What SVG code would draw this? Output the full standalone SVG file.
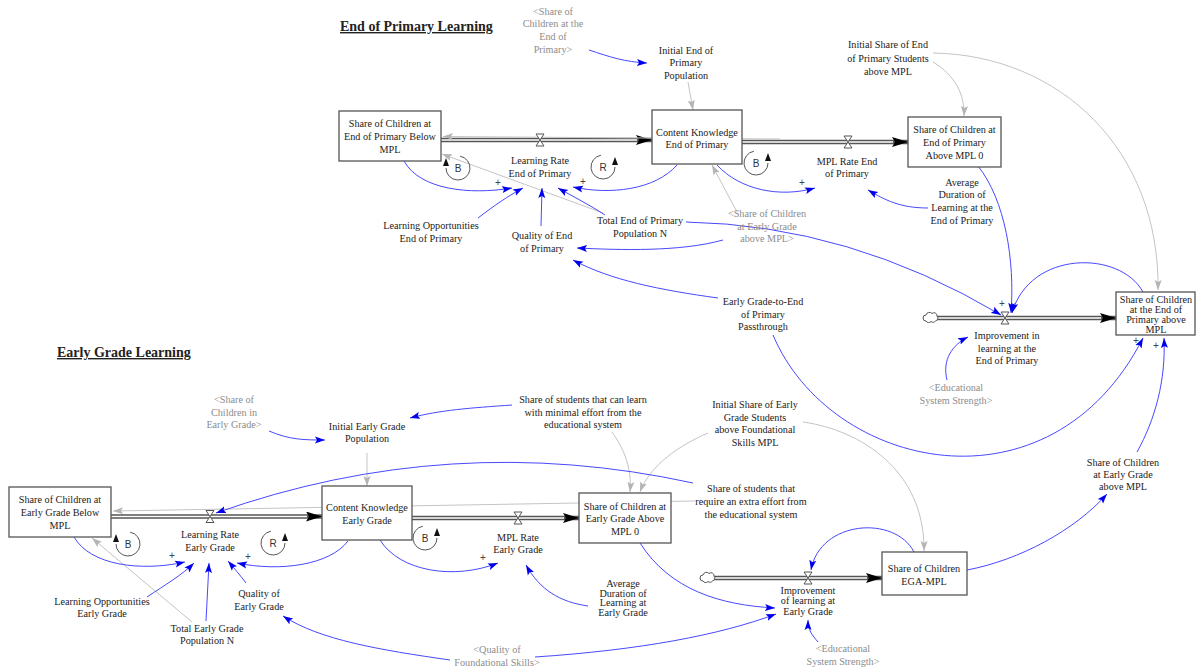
<svg xmlns="http://www.w3.org/2000/svg" width="1196" height="668" viewBox="0 0 1196 668">
<defs>
<style>
.t{font-family:"Liberation Serif","Times New Roman",serif;font-size:10.2px;fill:#222;text-anchor:middle}
.g{fill:#8c8c8c}
.ttl{font-family:"Liberation Serif","Times New Roman",serif;font-size:14px;font-weight:bold;fill:#222;text-decoration:underline}
.bl{fill:none;stroke:#4848ff;stroke-width:1}
.gr{fill:none;stroke:#c4c4c4;stroke-width:1}
.box{fill:#fff;stroke:#555;stroke-width:1.3}
.po{fill:none;stroke:#555;stroke-width:4.4}
.pi{fill:none;stroke:#fff;stroke-width:1.6}
.valve{fill:#fff;stroke:#555;stroke-width:1}
.loop{fill:none;stroke:#555;stroke-width:1}
.lt{font-family:"Liberation Sans",Arial,sans-serif;font-size:10px;fill:#333;text-anchor:middle}
.pl{font-family:"Liberation Sans",Arial,sans-serif;font-size:10px;fill:#444;text-anchor:middle}
</style>
<marker id="ab" markerWidth="10" markerHeight="8" refX="10" refY="4" orient="auto" markerUnits="userSpaceOnUse"><path d="M0,0.5 L10,4 L0,7.5 L2,4 Z" fill="#0000ee"/></marker>
<marker id="ag" markerWidth="10" markerHeight="8" refX="10" refY="4" orient="auto" markerUnits="userSpaceOnUse"><path d="M0,0.5 L10,4 L0,7.5 L2,4 Z" fill="#b4b4b4"/></marker>
<marker id="af" markerWidth="16" markerHeight="10" refX="16" refY="5" orient="auto" markerUnits="userSpaceOnUse"><path d="M0,0 L16,5 L0,10 L3,5 Z" fill="#000"/></marker>
</defs>
<rect width="1196" height="668" fill="#fff"/>

<g id="connectors">
<!-- flows -->
<path class="po" d="M441,140 L652,140" marker-end="url(#af)"/>
<path class="pi" d="M441,140 L637,140"/>
<path class="po" d="M742,142 L908,142" marker-end="url(#af)"/>
<path class="pi" d="M742,142 L893,142"/>
<path class="po" d="M937,318 L1116,318" marker-end="url(#af)"/>
<path class="pi" d="M937,318 L1101,318"/>
<path class="po" d="M111,516.5 L322,516.5" marker-end="url(#af)"/>
<path class="pi" d="M111,516.5 L307,516.5"/>
<path class="po" d="M412,518 L579,518" marker-end="url(#af)"/>
<path class="pi" d="M412,518 L564,518"/>
<path class="po" d="M714,578 L882,578" marker-end="url(#af)"/>
<path class="pi" d="M714,578 L867,578"/>

<!-- top gray -->
<path class="gr" d="M780,139 L443,136.5" marker-end="url(#ag)"/>
<path class="gr" d="M688,82 L693,110" marker-end="url(#ag)"/>
<path class="gr" d="M933,62 C955,75 965,95 964,116" marker-end="url(#ag)"/>
<path class="gr" d="M933,53 C1060,55 1160,150 1158,290" marker-end="url(#ag)"/>
<path class="gr" d="M603,213 L442,154" marker-end="url(#ag)"/>
<path class="gr" d="M737,212 L712,165" marker-end="url(#ag)"/>

<!-- top blue -->
<path class="bl" d="M589,50 C610,57 625,62 647,63" marker-end="url(#ab)"/>
<path class="bl" d="M404,161 C420,190 470,195 512,188" marker-end="url(#ab)"/>
<path class="bl" d="M677,165 C655,190 610,195 573,187" marker-end="url(#ab)"/>
<path class="bl" d="M478,218 C495,205 508,196 523,188" marker-end="url(#ab)"/>
<path class="bl" d="M541,226 L542,188" marker-end="url(#ab)"/>
<path class="bl" d="M605,215 C590,205 572,196 558,188" marker-end="url(#ab)"/>
<path class="bl" d="M686,222 Q850,225 1001,315" marker-end="url(#ab)"/>
<path class="bl" d="M723,240 C680,252 620,250 577,248" marker-end="url(#ab)"/>
<path class="bl" d="M717,165 C740,190 780,198 815,188" marker-end="url(#ab)"/>
<path class="bl" d="M928,208 C900,208 885,200 868,190" marker-end="url(#ab)"/>
<path class="bl" d="M978,166 C1005,200 1015,260 1011,313" marker-end="url(#ab)"/>
<path class="bl" d="M718,298 C660,290 610,280 573,260" marker-end="url(#ab)"/>
<path class="bl" d="M773,335 C830,470 1050,520 1143,338" marker-end="url(#ab)"/>
<path class="bl" d="M1137,452 C1155,420 1166,380 1164,338" marker-end="url(#ab)"/>
<path class="bl" d="M1143,292 C1120,250 1030,250 1012,313" marker-end="url(#ab)"/>
<path class="bl" d="M947,380 C942,360 952,345 968,337" marker-end="url(#ab)"/>

<!-- bottom gray -->
<path class="gr" d="M695,501 L113,511" marker-end="url(#ag)"/>
<path class="gr" d="M367,453 L367,486" marker-end="url(#ag)"/>
<path class="gr" d="M612,432 C625,450 632,470 630,492" marker-end="url(#ag)"/>
<path class="gr" d="M708,433 C680,445 650,465 640,492" marker-end="url(#ag)"/>
<path class="gr" d="M803,422 C860,430 925,470 924,551" marker-end="url(#ag)"/>
<path class="gr" d="M192,622 L92,538" marker-end="url(#ag)"/>

<!-- bottom blue -->
<path class="bl" d="M269,431 C290,440 305,440 325,440" marker-end="url(#ab)"/>
<path class="bl" d="M512,405 C470,408 440,410 410,418" marker-end="url(#ab)"/>
<path class="bl" d="M693,483 Q450,430 216,513" marker-end="url(#ab)"/>
<path class="bl" d="M74,537 C90,565 140,572 185,562" marker-end="url(#ab)"/>
<path class="bl" d="M348,541 C330,565 280,572 237,563" marker-end="url(#ab)"/>
<path class="bl" d="M147,597 C165,585 182,575 194,563" marker-end="url(#ab)"/>
<path class="bl" d="M206,621 L209,563" marker-end="url(#ab)"/>
<path class="bl" d="M246,583 C240,575 234,568 228,561" marker-end="url(#ab)"/>
<path class="bl" d="M450,660 C380,650 320,640 283,616" marker-end="url(#ab)"/>
<path class="bl" d="M535,657 C640,650 720,635 776,614" marker-end="url(#ab)"/>
<path class="bl" d="M380,540 C400,572 455,580 498,563" marker-end="url(#ab)"/>
<path class="bl" d="M588,606 C560,602 540,590 526,565" marker-end="url(#ab)"/>
<path class="bl" d="M640,543 C670,590 720,605 775,608" marker-end="url(#ab)"/>
<path class="bl" d="M818,642 C812,635 808,630 808,620" marker-end="url(#ab)"/>
<path class="bl" d="M914,552 C895,515 820,520 811,570" marker-end="url(#ab)"/>
<path class="bl" d="M967,570 C1020,560 1075,530 1107,494" marker-end="url(#ab)"/>

<!-- polarity -->
<text class="pl" x="498" y="186">+</text>
<text class="pl" x="583" y="185">+</text>
<text class="pl" x="802" y="186">+</text>
<text class="pl" x="1002" y="307">+</text>
<text class="pl" x="1136" y="344">+</text>
<text class="pl" x="1156" y="349">+</text>
<text class="pl" x="172" y="559">+</text>
<text class="pl" x="248" y="560">+</text>
<text class="pl" x="483" y="561">+</text>

<!-- loops -->
<g id="loop_b1"><path class="loop" d="M460.1,156.2 A12,12 0 1 1 446,168"/><path d="M446,158 L443,166 L449,166 Z" fill="#111"/><text class="lt" x="458" y="172">B</text></g>
<g id="loop_r1"><path class="loop" d="M600.9,155.2 A12,12 0 1 0 615,167"/><path d="M615,157 L612,165 L618,165 Z" fill="#111"/><text class="lt" x="603" y="171">R</text></g>
<g id="loop_b2"><path class="loop" d="M753.9,151.2 A12,12 0 1 0 768,163"/><path d="M768,153 L765,161 L771,161 Z" fill="#111"/><text class="lt" x="756" y="167">B</text></g>
<g id="loop_b3"><path class="loop" d="M130.1,532.2 A12,12 0 1 1 116,544"/><path d="M116,534 L113,542 L119,542 Z" fill="#111"/><text class="lt" x="128" y="548">B</text></g>
<g id="loop_r2"><path class="loop" d="M270.9,531.2 A12,12 0 1 0 285,543"/><path d="M285,533 L282,541 L288,541 Z" fill="#111"/><text class="lt" x="273" y="547">R</text></g>
<g id="loop_b4"><path class="loop" d="M422.9,526.2 A12,12 0 1 0 437,538"/><path d="M437,528 L434,536 L440,536 Z" fill="#111"/><text class="lt" x="425" y="542">B</text></g>
</g>

<!-- ===== End of Primary ===== -->
<g id="title_ep"><text class="ttl" x="340" y="31">End of Primary Learning</text></g>
<g id="ref_share_end_primary"><text class="t g"><tspan x="553" y="14.5">&lt;Share of</tspan><tspan x="553" y="27.2">Children at the</tspan><tspan x="553" y="40">End of</tspan><tspan x="553" y="52.7">Primary&gt;</tspan></text></g>
<g id="init_ep_pop"><text class="t"><tspan x="686" y="53.5">Initial End of</tspan><tspan x="686" y="66">Primary</tspan><tspan x="686" y="79">Population</tspan></text></g>
<g id="below_ep"><rect class="box" x="339" y="111" width="102" height="50"/><text class="t"><tspan x="390" y="127">Share of Children at</tspan><tspan x="390" y="140">End of Primary Below</tspan><tspan x="390" y="153">MPL</tspan></text></g>
<g id="ck_ep"><rect class="box" x="652" y="110" width="90" height="54"/><text class="t"><tspan x="697" y="135.5">Content Knowledge</tspan><tspan x="697" y="148">End of Primary</tspan></text></g>
<g id="above_ep0"><rect class="box" x="908" y="117" width="93" height="50"/><text class="t"><tspan x="954.5" y="133">Share of Children at</tspan><tspan x="954.5" y="146">End of Primary</tspan><tspan x="954.5" y="158.5">Above MPL 0</tspan></text></g>
<g id="lr_ep"><path class="valve" d="M536,134 L544,134 L540,140 Z M536,146 L544,146 L540,140 Z"/><text class="t"><tspan x="540" y="164">Learning Rate</tspan><tspan x="540" y="177">End of Primary</tspan></text></g>
<g id="mpl_ep"><path class="valve" d="M844,136 L852,136 L848,142 Z M844,148 L852,148 L848,142 Z"/><text class="t"><tspan x="847" y="164.5">MPL Rate End</tspan><tspan x="847" y="177">of Primary</tspan></text></g>
<g id="init_share_ep"><text class="t"><tspan x="888" y="48">Initial Share of End</tspan><tspan x="888" y="61.5">of Primary Students</tspan><tspan x="888" y="74.5">above MPL</tspan></text></g>
<g id="avg_dur_ep"><text class="t"><tspan x="962" y="185.5">Average</tspan><tspan x="962" y="198">Duration of</tspan><tspan x="962" y="211">Learning at the</tspan><tspan x="962" y="223.5">End of Primary</tspan></text></g>
<g id="ref_share_eg_above"><text class="t g"><tspan x="767" y="217">&lt;Share of Children</tspan><tspan x="767" y="229.5">at Early Grade</tspan><tspan x="767" y="242">above MPL&gt;</tspan></text></g>
<g id="lo_ep"><text class="t"><tspan x="431" y="228.5">Learning Opportunities</tspan><tspan x="431" y="241.5">End of Primary</tspan></text></g>
<g id="q_ep"><text class="t"><tspan x="542" y="238.5">Quality of End</tspan><tspan x="542" y="251.5">of Primary</tspan></text></g>
<g id="tot_ep"><text class="t"><tspan x="640" y="223.5">Total End of Primary</tspan><tspan x="640" y="236.5">Population N</tspan></text></g>
<g id="passthrough"><text class="t"><tspan x="763" y="304.5">Early Grade-to-End</tspan><tspan x="763" y="317.5">of Primary</tspan><tspan x="763" y="330">Passthrough</tspan></text></g>
<g id="cloud_ep"><path d="M926,321 a3,3 0 0 1 0,-6 a3.5,3.5 0 0 1 6,-1.5 a3,3 0 0 1 5,2.5 a3,3 0 0 1 -1.5,5 a3,3 0 0 1 -4.5,0.5 a3,3 0 0 1 -5,-0.5 z" fill="#fff" stroke="#555" stroke-width="1"/></g>
<g id="impr_ep"><path class="valve" d="M1001,312 L1009,312 L1005,318 Z M1001,324 L1009,324 L1005,318 Z"/><text class="t"><tspan x="1007" y="339">Improvement in</tspan><tspan x="1007" y="351.5">learning at the</tspan><tspan x="1007" y="364">End of Primary</tspan></text></g>
<g id="ref_ess_1"><text class="t g"><tspan x="956" y="391">&lt;Educational</tspan><tspan x="956" y="403.5">System Strength&gt;</tspan></text></g>
<g id="ep_above"><rect class="box" x="1116" y="292" width="79" height="43"/><text class="t"><tspan x="1156" y="302.5">Share of Children</tspan><tspan x="1156" y="312.5">at the End of</tspan><tspan x="1156" y="322.5">Primary above</tspan><tspan x="1156" y="332.5">MPL</tspan></text></g>

<!-- ===== Early Grade ===== -->
<g id="title_eg"><text class="ttl" x="57" y="357">Early Grade Learning</text></g>
<g id="ref_share_eg"><text class="t g"><tspan x="234" y="403">&lt;Share of</tspan><tspan x="234" y="416">Children in</tspan><tspan x="234" y="428">Early Grade&gt;</tspan></text></g>
<g id="init_eg_pop"><text class="t"><tspan x="367" y="429.5">Initial Early Grade</tspan><tspan x="367" y="442">Population</tspan></text></g>
<g id="minimal_effort"><text class="t"><tspan x="583" y="403">Share of students that can learn</tspan><tspan x="583" y="416">with minimal effort from the</tspan><tspan x="583" y="428">educational system</tspan></text></g>
<g id="init_share_eg"><text class="t"><tspan x="755" y="408">Initial Share of Early</tspan><tspan x="755" y="420.5">Grade Students</tspan><tspan x="755" y="433">above Foundational</tspan><tspan x="755" y="446">Skills MPL</tspan></text></g>
<g id="extra_effort"><text class="t"><tspan x="751" y="492">Share of students that</tspan><tspan x="751" y="505">require an extra effort from</tspan><tspan x="751" y="518">the educational system</tspan></text></g>
<g id="below_eg"><rect class="box" x="9" y="487" width="102" height="50"/><text class="t"><tspan x="60" y="503">Share of Children at</tspan><tspan x="60" y="516">Early Grade Below</tspan><tspan x="60" y="529">MPL</tspan></text></g>
<g id="ck_eg"><rect class="box" x="322" y="486" width="90" height="54"/><text class="t"><tspan x="367" y="511">Content Knowledge</tspan><tspan x="367" y="524">Early Grade</tspan></text></g>
<g id="above_eg0"><rect class="box" x="579" y="493" width="92" height="50"/><text class="t"><tspan x="625" y="509.5">Share of Children at</tspan><tspan x="625" y="522">Early Grade Above</tspan><tspan x="625" y="535">MPL 0</tspan></text></g>
<g id="lr_eg"><path class="valve" d="M206,510.5 L214,510.5 L210,516.5 Z M206,522.5 L214,522.5 L210,516.5 Z"/><text class="t"><tspan x="210" y="538">Learning Rate</tspan><tspan x="210" y="551">Early Grade</tspan></text></g>
<g id="mpl_eg"><path class="valve" d="M514,512 L522,512 L518,518 Z M514,524 L522,524 L518,518 Z"/><text class="t"><tspan x="518" y="540.5">MPL Rate</tspan><tspan x="518" y="552.5">Early Grade</tspan></text></g>
<g id="lo_eg"><text class="t"><tspan x="102" y="604.5">Learning Opportunities</tspan><tspan x="102" y="617">Early Grade</tspan></text></g>
<g id="tot_eg"><text class="t"><tspan x="207" y="631.5">Total Early Grade</tspan><tspan x="207" y="644">Population N</tspan></text></g>
<g id="q_eg"><text class="t"><tspan x="259" y="596.5">Quality of</tspan><tspan x="259" y="609.5">Early Grade</tspan></text></g>
<g id="avg_dur_eg"><text class="t"><tspan x="623" y="587">Average</tspan><tspan x="623" y="596.5">Duration of</tspan><tspan x="623" y="606">Learning at</tspan><tspan x="623" y="615.5">Early Grade</tspan></text></g>
<g id="cloud_eg"><path d="M703,581 a3,3 0 0 1 0,-6 a3.5,3.5 0 0 1 6,-1.5 a3,3 0 0 1 5,2.5 a3,3 0 0 1 -1.5,5 a3,3 0 0 1 -4.5,0.5 a3,3 0 0 1 -5,-0.5 z" fill="#fff" stroke="#555" stroke-width="1"/></g>
<g id="impr_eg"><path class="valve" d="M804,572 L812,572 L808,578 Z M804,584 L812,584 L808,578 Z"/><text class="t"><tspan x="808" y="593.5">Improvement</tspan><tspan x="808" y="603.5">of learning at</tspan><tspan x="808" y="614.5">Early Grade</tspan></text></g>
<g id="ref_qfs"><text class="t g"><tspan x="497" y="652.5">&lt;Quality of</tspan><tspan x="497" y="666">Foundational Skills&gt;</tspan></text></g>
<g id="ref_ess_2"><text class="t g"><tspan x="843" y="651.5">&lt;Educational</tspan><tspan x="843" y="664.5">System Strength&gt;</tspan></text></g>
<g id="ega_mpl"><rect class="box" x="882" y="552" width="85" height="43"/><text class="t"><tspan x="924" y="571.5">Share of Children</tspan><tspan x="924" y="584.5">EGA-MPL</tspan></text></g>
<g id="sh_eg_above"><text class="t"><tspan x="1123" y="465.5">Share of Children</tspan><tspan x="1123" y="477.5">at Early Grade</tspan><tspan x="1123" y="489.5">above MPL</tspan></text></g>
</svg>
